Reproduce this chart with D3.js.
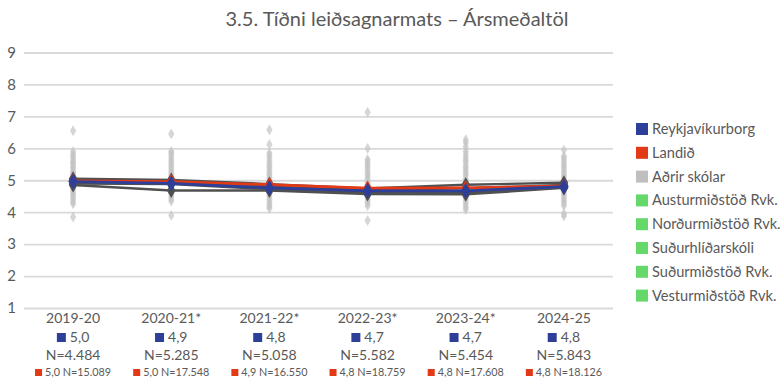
<!DOCTYPE html>
<html>
<head>
<meta charset="utf-8">
<script src="https://cdn.jsdelivr.net/npm/d3@7"></script>
<style>
  html, body { margin: 0; padding: 0; background: #fff; }
  svg { display: block; font-family: "Lato", "Noto Sans", sans-serif; }
</style>
</head>
<body>
<svg id="chart" width="784" height="379"></svg>
<script>
// School years on the x axis
const years = ["2019-20", "2020-21*", "2021-22*", "2022-23*", "2023-24*", "2024-25"];

// Yearly means
const reykjavik = [4.96, 4.90, 4.76, 4.67, 4.67, 4.80];
const landid    = [4.98, 4.96, 4.86, 4.75, 4.76, 4.82];

// District series (legend in green, drawn as dark lines)
const austur    = [5.05, 5.01, 4.88, 4.74, 4.86, 4.92];
const nordur    = [5.00, 4.98, 4.84, 4.70, 4.75, 4.85];
const sudurhlid = [4.95, 4.92, 4.78, 4.64, 4.66, 4.80];
const sudur     = [4.90, 4.88, 4.72, 4.60, 4.60, 4.78];
const vestur    = [4.85, 4.68, 4.68, 4.57, 4.56, 4.76];

// Other schools, one list per year
const adrir = [
  [6.55, 5.9, 5.82, 5.75, 5.68, 5.6, 5.55, 5.5, 5.42, 5.38, 5.3, 5.25, 5.2, 5.15, 5.1, 5.05, 4.98, 4.92, 4.88, 4.8, 4.75, 4.7, 4.62, 4.55, 4.48, 4.4, 4.32, 4.26, 3.85],
  [6.45, 5.9, 5.85, 5.78, 5.7, 5.62, 5.55, 5.48, 5.4, 5.33, 5.25, 5.18, 5.1, 5.05, 4.97, 4.9, 4.84, 4.78, 4.7, 4.65, 4.58, 4.5, 4.42, 4.35, 3.9],
  [6.58, 6.12, 5.85, 5.78, 5.7, 5.6, 5.52, 5.45, 5.38, 5.3, 5.22, 5.15, 5.08, 5.0, 4.93, 4.85, 4.78, 4.7, 4.62, 4.55, 4.48, 4.4, 4.32, 4.25, 4.18, 4.12],
  [7.13, 6.0, 5.65, 5.6, 5.52, 5.45, 5.38, 5.3, 5.22, 5.15, 5.08, 5.0, 4.93, 4.86, 4.8, 4.72, 4.65, 4.58, 4.5, 4.42, 4.35, 4.28, 4.2, 3.74],
  [6.27, 6.18, 6.05, 5.9, 5.8, 5.7, 5.62, 5.55, 5.45, 5.38, 5.3, 5.22, 5.15, 5.05, 4.98, 4.9, 4.82, 4.75, 4.68, 4.6, 4.52, 4.45, 4.38, 4.3, 4.22, 4.15, 4.08],
  [5.95, 5.75, 5.68, 5.6, 5.52, 5.45, 5.38, 5.3, 5.22, 5.15, 5.08, 5.0, 4.93, 4.86, 4.8, 4.72, 4.65, 4.58, 4.5, 4.42, 4.35, 4.28, 4.2, 3.95, 3.88]
];

// Labels under each year
const rvkLabel  = ["5,0", "4,9", "4,8", "4,7", "4,7", "4,8"];
const rvkN      = ["N=4.484", "N=5.285", "N=5.058", "N=5.582", "N=5.454", "N=5.843"];
const landLabel = ["5,0 N=15.089", "5,0 N=17.548", "4,9 N=16.550", "4,8 N=18.759", "4,8 N=17.608", "4,8 N=18.126"];

const yTicks = [1, 2, 3, 4, 5, 6, 7, 8, 9];

const legendNames  = ["Reykjavíkurborg", "Landið", "Aðrir skólar", "Austurmiðstöð Rvk.", "Norðurmiðstöð Rvk.", "Suðurhlíðarskóli", "Suðurmiðstöð Rvk.", "Vesturmiðstöð Rvk."];
const legendColors = ["#2e3f9a", "#e23a17", "#bfbfbf", "#66d86a", "#66d86a", "#66d86a", "#66d86a", "#66d86a"];

const BLUE = "#2e3f9a", RED = "#e23a17", DARK = "#505050", TEXT = "#595959";

const svg = d3.select("#chart");

const x = d3.scaleBand().domain(years).range([24, 613]);
const y = d3.scaleLinear().domain([1, 9]).range([308, 52.5]);
const cx = d => x(d) + x.bandwidth() / 2;

// Title
svg.append("text")
  .attr("x", 397).attr("y", 26)
  .attr("text-anchor", "middle")
  .attr("font-size", 20)
  .attr("fill", TEXT)
  .text("3.5. Tíðni leiðsagnarmats – Ársmeðaltöl");

// Gridlines and y labels
const yAxis = d3.axisLeft(y).tickValues(yTicks).tickSize(-(613 - 24)).tickFormat(d3.format("d"));
const yg = svg.append("g").attr("transform", "translate(24,0)").call(yAxis);
yg.select(".domain").remove();
yg.selectAll(".tick line").attr("stroke", "#d9d9d9").attr("stroke-width", 1.8);
yg.selectAll(".tick text")
  .attr("x", -8).attr("fill", TEXT)
  .attr("font-size", 15).attr("font-family", "Lato, 'Noto Sans', sans-serif");

const diamond = d3.symbol().type(d3.symbolDiamond);

// Other schools as light diamonds
years.forEach((yr, i) => {
  svg.append("g").selectAll("path")
    .data(adrir[i]).join("path")
    .attr("d", diamond.size(34))
    .attr("transform", v => `translate(${cx(yr)},${y(v)})`)
    .attr("fill", "#c4c4c4")
    .attr("opacity", 0.7);
});

const line = d3.line().x((d, i) => cx(years[i])).y(d => y(d));

function drawSeries(vals, color, width, size) {
  svg.append("path").datum(vals)
    .attr("d", line)
    .attr("fill", "none")
    .attr("stroke", color)
    .attr("stroke-width", width)
    .attr("stroke-linejoin", "round");
  svg.append("g").selectAll("path")
    .data(vals).join("path")
    .attr("d", diamond.size(size))
    .attr("transform", (v, i) => `translate(${cx(years[i])},${y(v)})`)
    .attr("fill", color);
}

[austur, nordur, sudurhlid, sudur, vestur].forEach(s => drawSeries(s, DARK, 2.4, 65));
drawSeries(landid, RED, 2.8, 70);
drawSeries(reykjavik, BLUE, 2.8, 75);

// Labels under the x axis
years.forEach((yr, i) => {
  const c = cx(yr);
  svg.append("text").attr("x", c).attr("y", 323)
    .attr("text-anchor", "middle").attr("font-size", 14).attr("fill", TEXT).text(yr);

  const g1 = svg.append("g");
  g1.append("rect").attr("width", 9).attr("height", 9).attr("y", -9).attr("fill", BLUE);
  const t1 = g1.append("text").attr("x", 13).attr("y", 0)
    .attr("font-size", 14).attr("fill", TEXT).text(rvkLabel[i]);
  const w1 = 13 + t1.node().getComputedTextLength();
  g1.attr("transform", `translate(${c - w1 / 2},${342})`);

  svg.append("text").attr("x", c).attr("y", 360)
    .attr("text-anchor", "middle").attr("font-size", 14).attr("fill", TEXT).text(rvkN[i]);

  const g2 = svg.append("g");
  g2.append("rect").attr("width", 7).attr("height", 7).attr("y", -7).attr("fill", RED);
  const t2 = g2.append("text").attr("x", 10).attr("y", 0)
    .attr("font-size", 10.8).attr("fill", TEXT).text(landLabel[i]);
  const w2 = 10 + t2.node().getComputedTextLength();
  g2.attr("transform", `translate(${c - w2 / 2},${376})`);
});

// Legend
const lg = svg.append("g").attr("transform", "translate(636,129)");
legendNames.forEach((name, i) => {
  const row = lg.append("g").attr("transform", `translate(0,${i * 23.8})`);
  row.append("rect").attr("x", 0).attr("y", -6).attr("width", 12).attr("height", 12).attr("fill", legendColors[i]);
  row.append("text").attr("x", 16).attr("y", 5)
    .attr("font-size", 14.6).attr("fill", TEXT).text(name);
});
</script>
</body>
</html>
